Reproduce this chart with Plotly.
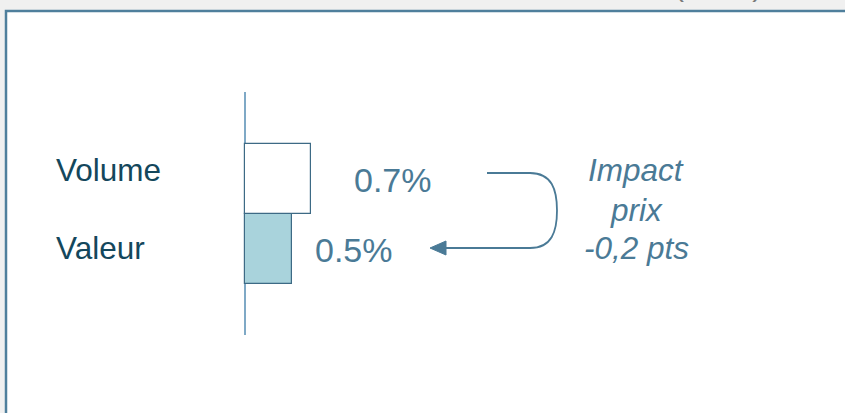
import plotly.graph_objects as go

categories = ["Valeur", "Volume"]
values = [0.5, 0.7]
value_labels = ["0.5%", "0.7%"]
bar_fills = ["#a9d3dc", "#ffffff"]
impact_lines = ["Impact", "prix", "-0,2 pts"]

W, H = 845, 413
PT, PB = 92, 335  # plot area top / bottom in px

def px(x):
    return x / W

def py(y):
    return (PB - y) / (PB - PT)

fig = go.Figure()
fig.add_trace(go.Bar(
    y=categories, x=values, orientation="h",
    marker=dict(color=bar_fills, line=dict(color="#3d6a85", width=1.2)),
    width=1, hoverinfo="skip", showlegend=False,
))

scale = 94.0
x0 = -245 / scale
x1 = (W - 245) / scale
unit = 70.0
r1 = 1 + (178.5 - PT) / unit
r0 = r1 - (PB - PT) / unit

# white framed box
shapes = [
    dict(type="rect", xref="paper", yref="paper", layer="below",
         x0=px(6), x1=px(W + 20), y0=py(H + 20), y1=py(11),
         fillcolor="white", line=dict(color="#4f7f9c", width=2.5)),
]

# bracket arrow
path = (f"M{px(487)},{py(173)} L{px(530)},{py(173)} "
        f"C{px(552)},{py(173)} {px(557)},{py(190)} {px(557)},{py(210.5)} "
        f"C{px(557)},{py(231)} {px(552)},{py(248)} {px(530)},{py(248)} "
        f"L{px(444)},{py(248)}")
shapes.append(dict(type="path", xref="paper", yref="paper", path=path,
                   line=dict(color="#4a7a96", width=1.8)))
head = f"M{px(430)},{py(248)} L{px(446)},{py(241)} L{px(446)},{py(255)} Z"
shapes.append(dict(type="path", xref="paper", yref="paper", path=head,
                   fillcolor="#4a7a96", line=dict(color="#4a7a96", width=1)))

annotations = []
label_shift = {"Valeur": 1, "Volume": 9}
for cat in categories:
    annotations.append(dict(
        x=px(54), xref="paper", y=cat, yref="y", text=cat, showarrow=False,
        xanchor="left", yanchor="middle", yshift=label_shift[cat],
        font=dict(family="Liberation Sans, Arial", size=31.5, color="#14475c"),
    ))
shifts = {"Valeur": 21, "Volume": 41}
for cat, v, lab in zip(categories, values, value_labels):
    annotations.append(dict(
        x=v, xref="x", y=cat, yref="y", text=lab, showarrow=False,
        xanchor="left", yanchor="middle", xshift=shifts[cat], yshift=-1,
        font=dict(family="Liberation Sans, Arial", size=34, color="#4a7a96"),
    ))
for line, ypx in zip(impact_lines, [170, 210, 248]):
    annotations.append(dict(
        x=px(636), xref="paper", y=py(ypx), yref="paper", text=f"<i>{line}</i>",
        showarrow=False, xanchor="center", yanchor="middle",
        font=dict(family="Liberation Sans, Arial", size=31.5, color="#4a7a96"),
    ))
annotations.append(dict(
    x=px(718), xref="paper", y=py(4), yref="paper", text="(en %)",
    showarrow=False, xanchor="center", yanchor="bottom",
    font=dict(family="Liberation Sans, Arial", size=30, color="#7a7a7a"),
))

fig.update_layout(
    width=W, height=H,
    margin=dict(l=0, r=0, t=PT, b=H - PB, pad=0),
    paper_bgcolor="#f0f0f0", plot_bgcolor="rgba(0,0,0,0)",
    bargap=0, shapes=shapes, annotations=annotations,
    xaxis=dict(range=[x0, x1], showgrid=False, showticklabels=False, ticks="",
               zeroline=True, zerolinecolor="#7fa9c6", zerolinewidth=2, fixedrange=True),
    yaxis=dict(range=[r0, r1], type="category", categoryorder="array",
               categoryarray=categories, showgrid=False, showticklabels=False,
               ticks="", zeroline=False, fixedrange=True),
)

fig.write_html("out.html")
